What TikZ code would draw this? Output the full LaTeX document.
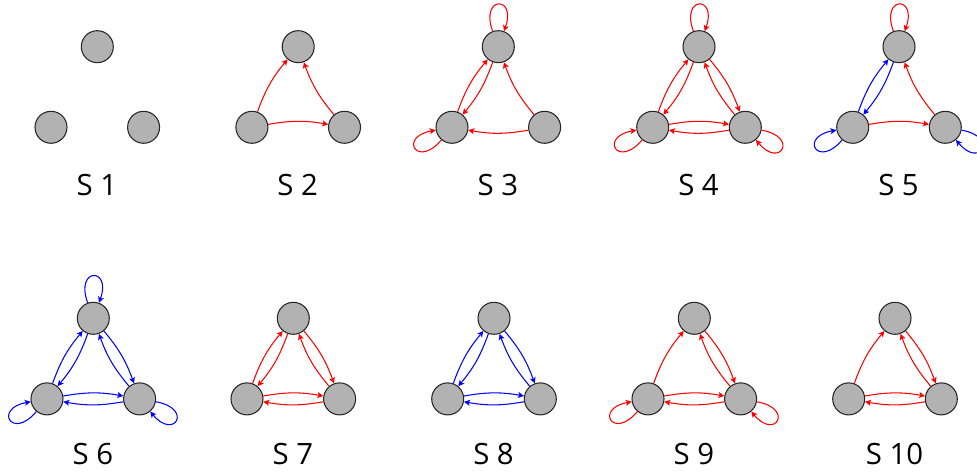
\documentclass[tikz,border=0pt]{standalone}
\usepackage{fontspec}
\setsansfont{Open Sans}
\usepackage{xcolor}
\usepackage{tikz}
\usetikzlibrary{arrows.meta, positioning}

\tikzset{
    vert/.style={circle, draw=black!85, fill=black!30, line width=0.6pt, minimum size=6.4mm, inner sep=0pt},
    lbl/.style={anchor=base, font=\sffamily\fontsize{16.7}{20}\selectfont},
    redarr/.style={-{Stealth[length=3.4pt, width=3.4pt, inset=0.8pt]}, red, line width=0.6pt},
    bluearr/.style={-{Stealth[length=3.4pt, width=3.4pt, inset=0.8pt]}, blue, line width=0.6pt},
    bent/.style={bend left=10},
    loopt/.style={out=110, in=70, distance=7.6mm},
    loopl/.style={out=230, in=190, distance=7.6mm},
    loopr/.style={out=350, in=310, distance=7.6mm}
}

\begin{document}
\begin{tikzpicture}[x=0.2mm, y=0.2mm]
    \useasboundingbox (0,0) rectangle (977,476);

    % Nodes and labels
    \foreach \n/\x/\y/\b in {1/97.3/429.3/280, 2/298.2/429.3/280, 3/498.3/429.3/280, 4/699/429.3/280, 5/899/429.3/280,
                             6/93.3/157.7/11, 7/293.3/157.7/11, 8/494/157.7/11, 9/694.3/157.7/11, 10/895/157.7/11} {
        \node[vert] (t\n) at (\x, \y) {};
        \node[vert] (l\n) at (\x-46.3, \y-80.6) {};
        \node[vert] (r\n) at (\x+46.3, \y-80.6) {};
        \node[lbl] (s\n) at (\x-0.5, \b) {S \n};
    }

    % S 2
    \foreach \a/\c in {l2/t2, l2/r2, r2/t2} \draw[redarr] (\a) to[bent] (\c);

    % S 3
    \draw[redarr] (t3) to[loopt] (t3);
    \draw[redarr] (l3) to[loopl] (l3);
    \foreach \a/\c in {l3/t3, t3/l3, r3/l3, r3/t3} \draw[redarr] (\a) to[bent] (\c);

    % S 4
    \draw[redarr] (t4) to[loopt] (t4);
    \draw[redarr] (l4) to[loopl] (l4);
    \draw[redarr] (r4) to[loopr] (r4);
    \foreach \a/\c in {l4/t4, t4/l4, t4/r4, r4/t4, l4/r4, r4/l4} \draw[redarr] (\a) to[bent] (\c);

    % S 5
    \draw[redarr] (t5) to[loopt] (t5);
    \draw[bluearr] (l5) to[loopl] (l5);
    \draw[bluearr] (r5) to[loopr] (r5);
    \foreach \a/\c in {l5/t5, t5/l5} \draw[bluearr] (\a) to[bent] (\c);
    \foreach \a/\c in {l5/r5, r5/t5} \draw[redarr] (\a) to[bent] (\c);

    % S 6
    \draw[bluearr] (t6) to[loopt] (t6);
    \draw[bluearr] (l6) to[loopl] (l6);
    \draw[bluearr] (r6) to[loopr] (r6);
    \foreach \a/\c in {l6/t6, t6/l6, t6/r6, r6/t6, l6/r6, r6/l6} \draw[bluearr] (\a) to[bent] (\c);

    % S 7
    \foreach \a/\c in {l7/t7, t7/l7, t7/r7, r7/t7, l7/r7, r7/l7} \draw[redarr] (\a) to[bent] (\c);

    % S 8
    \foreach \a/\c in {l8/t8, t8/l8, t8/r8, r8/t8, l8/r8, r8/l8} \draw[bluearr] (\a) to[bent] (\c);

    % S 9
    \draw[redarr] (l9) to[loopl] (l9);
    \draw[redarr] (r9) to[loopr] (r9);
    \foreach \a/\c in {l9/t9, t9/r9, r9/t9, l9/r9, r9/l9} \draw[redarr] (\a) to[bent] (\c);

    % S 10
    \foreach \a/\c in {l10/t10, t10/r10, r10/t10, l10/r10, r10/l10} \draw[redarr] (\a) to[bent] (\c);
\end{tikzpicture}
\end{document}
